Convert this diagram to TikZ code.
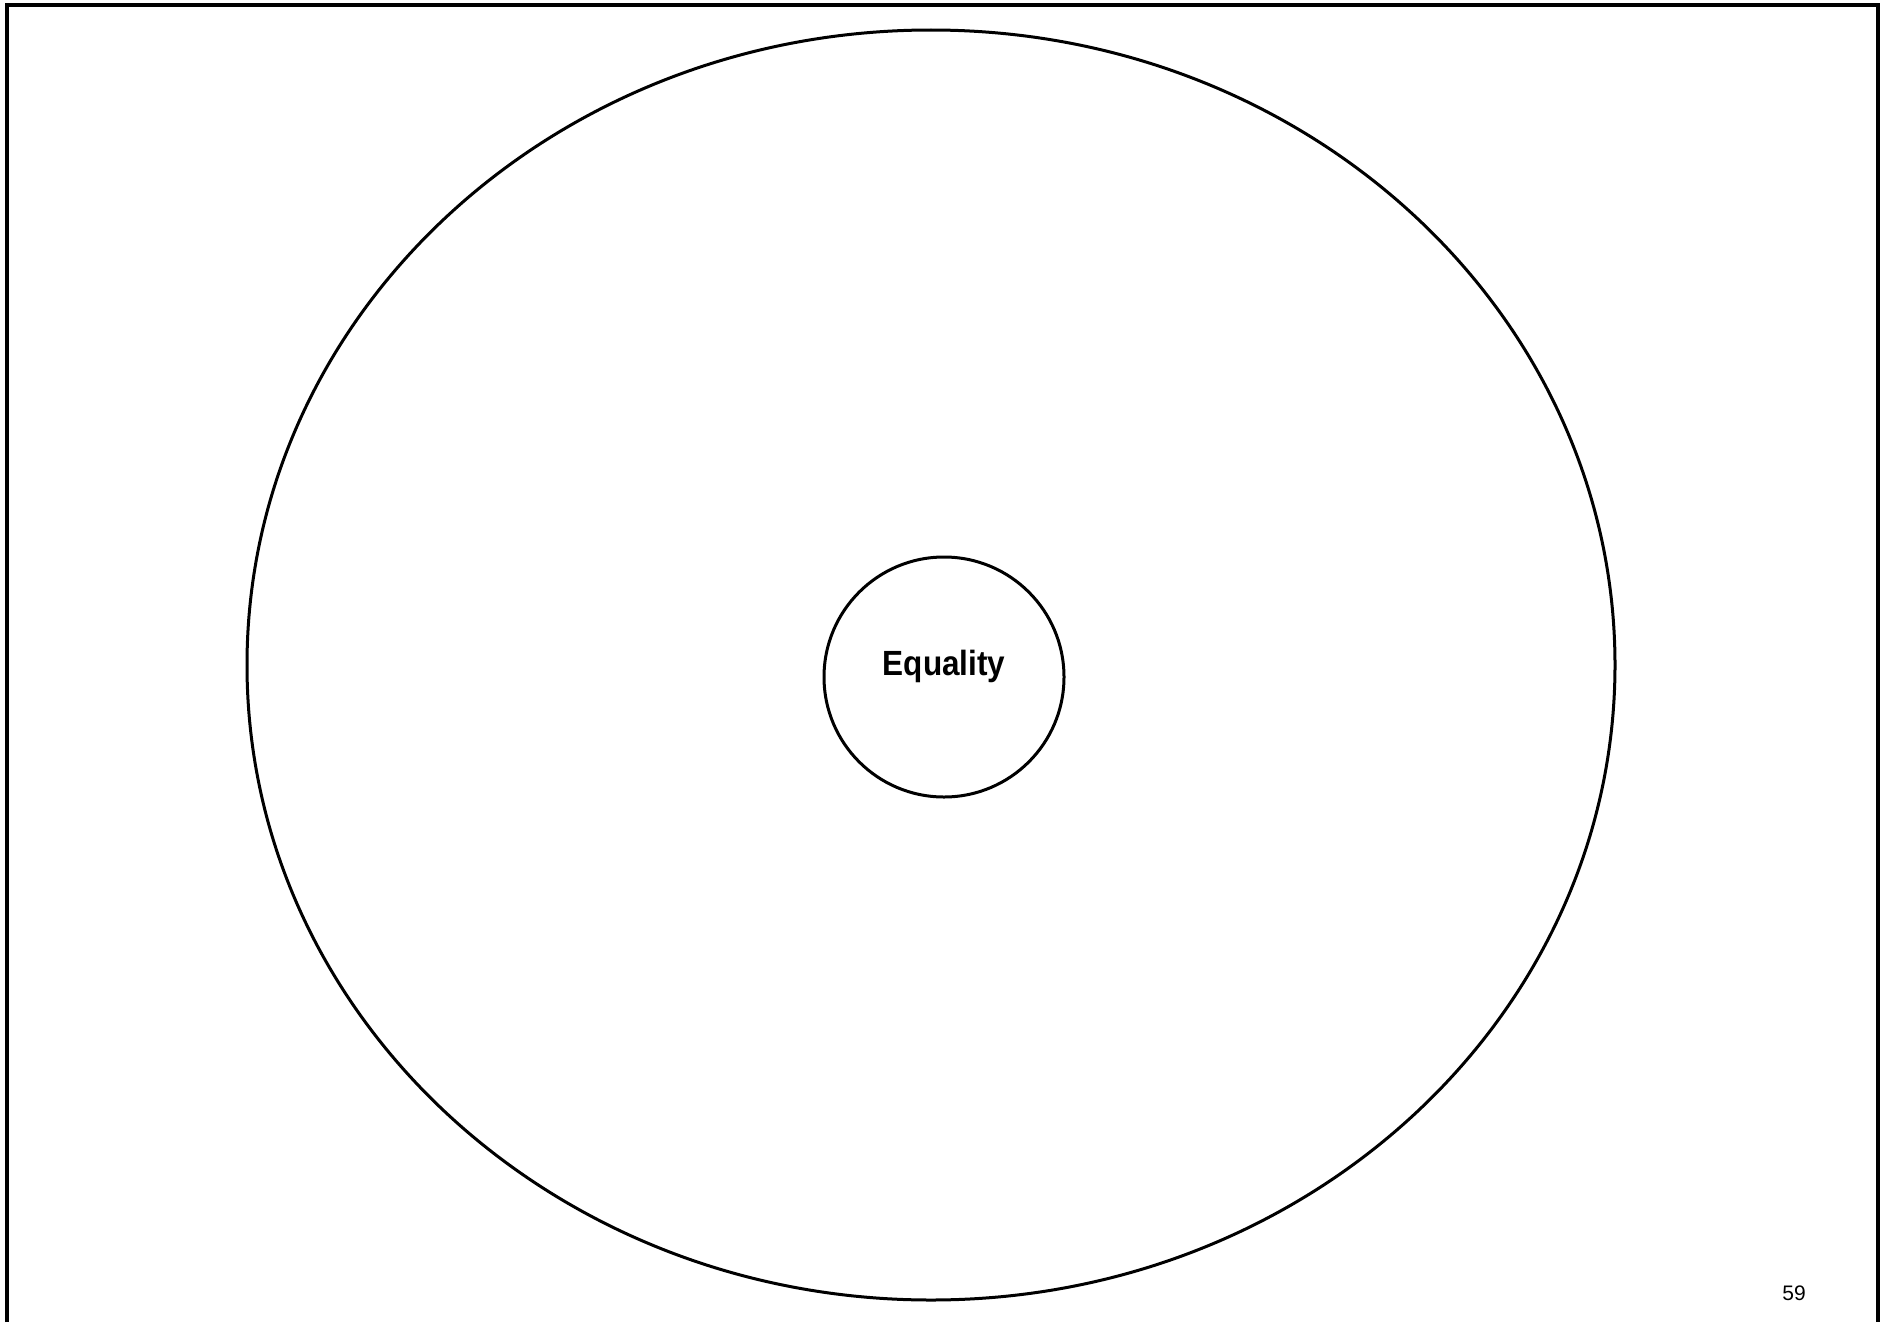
\documentclass[tikz,border=0pt]{standalone}
\usepackage{fontspec}
\setmainfont{Liberation Sans}
\newfontfamily\eqfont[FakeStretch=0.9]{Liberation Sans Bold}
\usetikzlibrary{shapes.geometric}
\begin{document}
\begin{tikzpicture}[x=1pt,y=-1pt,
  outline/.style={draw=black,line width=3pt,inner sep=0pt},
  frameline/.style={draw=black,line width=4pt}]
\useasboundingbox (0,0) rectangle (1889,1322);
\coordinate (fbl) at (7,1322);
\coordinate (ftl) at (7,5);
\coordinate (ftr) at (1878,5);
\coordinate (fbr) at (1878,1322);
\draw[frameline] (fbl) -- (ftl) -- (ftr) -- (fbr);
\node[outline,ellipse,minimum width=1368pt,minimum height=1270pt] (outer) at (931,665) {};
\node[outline,circle,minimum size=240pt] (inner) at (944,677) {};
\node[anchor=base,inner sep=0pt,font=\eqfont\fontsize{35}{40}\selectfont] (eq) at (944,675) {Equality};
\node[anchor=base,inner sep=0pt,font=\fontsize{21}{24}\selectfont] (pg) at (1794,1300) {59};
\end{tikzpicture}
\end{document}
